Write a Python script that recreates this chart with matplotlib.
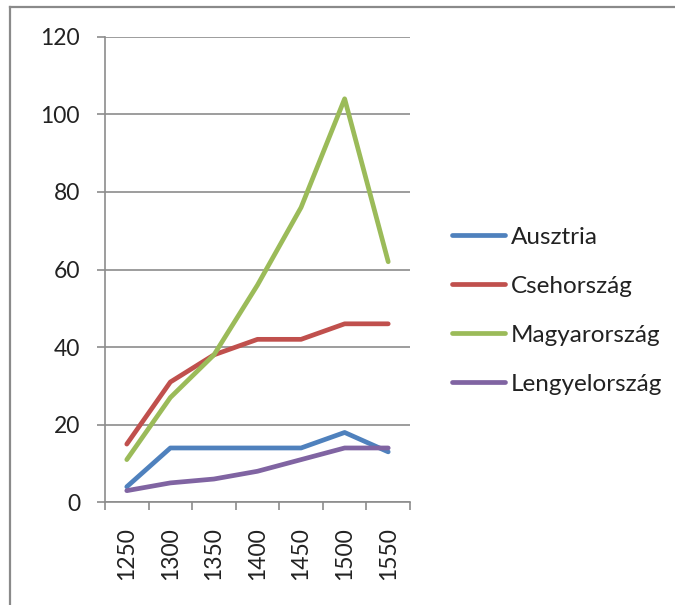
import matplotlib
matplotlib.use("Agg")
import matplotlib.pyplot as plt
from matplotlib.lines import Line2D
import numpy as np

years = ["1250", "1300", "1350", "1400", "1450", "1500", "1550"]
ausztria = [4, 14, 14, 14, 14, 18, 13]
csehorszag = [15, 31, 38, 42, 42, 46, 46]
magyarorszag = [11, 27, 38, 56, 76, 104, 62]
lengyelorszag = [3, 5, 6, 8, 11, 14, 14]
series_names = ["Ausztria", "Csehország", "Magyarország", "Lengyelország"]
y_ticks = [0, 20, 40, 60, 80, 100, 120]

colors = ["#4F81BD", "#C0504D", "#9BBB59", "#8064A2"]

plt.rcParams['font.family'] = ['Lato', 'DejaVu Sans']

W, H = 675, 605
fig = plt.figure(figsize=(W / 100, H / 100), dpi=100)
ax = fig.add_axes([105 / W, 1 - 502.3 / H, (410 - 105) / W, (502.3 - 36.7) / H])

x = np.arange(len(years))
for vals, name, c in zip([ausztria, csehorszag, magyarorszag, lengyelorszag], series_names, colors):
    ax.plot(x, vals, color=c, lw=3.4, label=name, solid_capstyle='round', solid_joinstyle='round', zorder=3)

ax.set_xlim(-0.5, len(years) - 0.5)
ax.set_ylim(0, 120)
ax.set_yticks(y_ticks)
ax.set_yticklabels([str(v) for v in y_ticks], fontsize=16.5, color='#222222')
ax.yaxis.grid(True, color='#8c8c8c', lw=1.2)
ax.set_axisbelow(True)

ax.set_xticks(x)
ax.set_xticklabels(years, rotation=90, fontsize=16.5, color='#222222')
ax.set_xticks(np.arange(-0.5, len(years)), minor=True)
ax.tick_params(axis='x', which='major', length=0, pad=18)
ax.tick_params(axis='x', which='minor', length=6, color='#8c8c8c', width=1.2, direction='out')
ax.tick_params(axis='y', length=6, color='#8c8c8c', width=1.2, pad=12)

for s in ['top', 'right']:
    ax.spines[s].set_visible(False)
for s in ['left', 'bottom']:
    ax.spines[s].set_color('#8c8c8c')
    ax.spines[s].set_linewidth(1.2)

leg = fig.legend(loc='upper left', bbox_to_anchor=(430 / W, 1 - 205 / H), frameon=False,
                 fontsize=17.5, handlelength=2.18, handletextpad=0.25, labelspacing=1.15)
for t in leg.get_texts():
    t.set_color('#222222')

# chart border (left and top edges visible)
fig.add_artist(Line2D([9.5 / W, 9.5 / W], [0, 1 - 7 / H], color='#8a8a8a', lw=1.6, transform=fig.transFigure))
fig.add_artist(Line2D([9.5 / W, 1], [1 - 7 / H, 1 - 7 / H], color='#8a8a8a', lw=1.6, transform=fig.transFigure))

fig.savefig("out.png", dpi=100)
